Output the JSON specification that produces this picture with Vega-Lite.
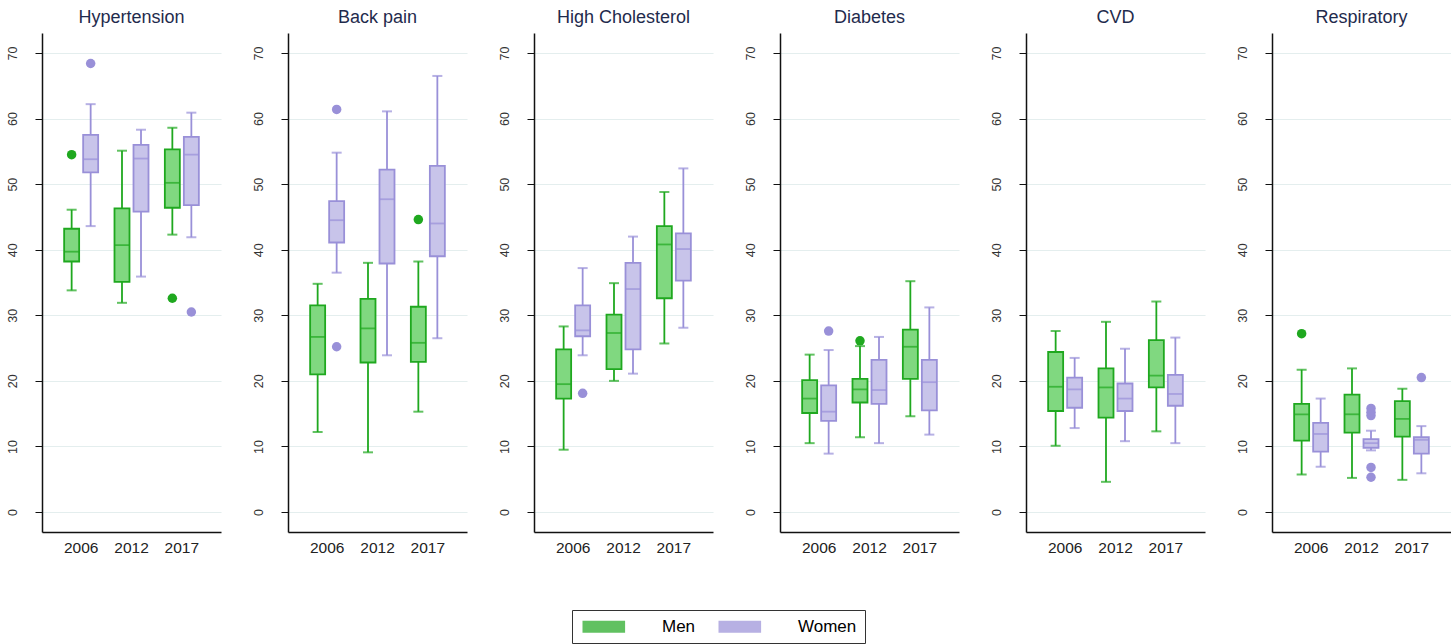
{
  "$schema": "https://vega.github.io/schema/vega-lite/v6.json",
  "background": "white",
  "padding": {"left": 6, "top": 9, "right": 0, "bottom": 0},
  "data": {
    "values": [
      {"cond": "Hypertension", "year": "2006", "sex": "Men", "lower": 33.8, "q1": 38.2, "median": 39.7, "q3": 43.2, "upper": 46.1},
      {"cond": "Hypertension", "year": "2006", "sex": "Women", "lower": 43.6, "q1": 51.8, "median": 53.8, "q3": 57.5, "upper": 62.2},
      {"cond": "Hypertension", "year": "2012", "sex": "Men", "lower": 31.9, "q1": 35.1, "median": 40.7, "q3": 46.3, "upper": 55.1},
      {"cond": "Hypertension", "year": "2012", "sex": "Women", "lower": 35.9, "q1": 45.8, "median": 53.9, "q3": 56.0, "upper": 58.3},
      {"cond": "Hypertension", "year": "2017", "sex": "Men", "lower": 42.3, "q1": 46.4, "median": 50.2, "q3": 55.3, "upper": 58.6},
      {"cond": "Hypertension", "year": "2017", "sex": "Women", "lower": 41.9, "q1": 46.8, "median": 54.5, "q3": 57.2, "upper": 60.9},
      {"cond": "Back pain", "year": "2006", "sex": "Men", "lower": 12.2, "q1": 21.0, "median": 26.7, "q3": 31.5, "upper": 34.8},
      {"cond": "Back pain", "year": "2006", "sex": "Women", "lower": 36.5, "q1": 41.1, "median": 44.5, "q3": 47.4, "upper": 54.8},
      {"cond": "Back pain", "year": "2012", "sex": "Men", "lower": 9.1, "q1": 22.8, "median": 28.0, "q3": 32.5, "upper": 38.0},
      {"cond": "Back pain", "year": "2012", "sex": "Women", "lower": 23.9, "q1": 37.9, "median": 47.7, "q3": 52.2, "upper": 61.1},
      {"cond": "Back pain", "year": "2017", "sex": "Men", "lower": 15.3, "q1": 22.9, "median": 25.8, "q3": 31.3, "upper": 38.2},
      {"cond": "Back pain", "year": "2017", "sex": "Women", "lower": 26.5, "q1": 39.0, "median": 44.0, "q3": 52.8, "upper": 66.5},
      {"cond": "High Cholesterol", "year": "2006", "sex": "Men", "lower": 9.5, "q1": 17.3, "median": 19.5, "q3": 24.8, "upper": 28.3},
      {"cond": "High Cholesterol", "year": "2006", "sex": "Women", "lower": 23.9, "q1": 26.8, "median": 27.7, "q3": 31.5, "upper": 37.2},
      {"cond": "High Cholesterol", "year": "2012", "sex": "Men", "lower": 20.0, "q1": 21.8, "median": 27.3, "q3": 30.1, "upper": 34.9},
      {"cond": "High Cholesterol", "year": "2012", "sex": "Women", "lower": 21.1, "q1": 24.8, "median": 34.0, "q3": 38.0, "upper": 42.0},
      {"cond": "High Cholesterol", "year": "2017", "sex": "Men", "lower": 25.7, "q1": 32.6, "median": 40.8, "q3": 43.6, "upper": 48.8},
      {"cond": "High Cholesterol", "year": "2017", "sex": "Women", "lower": 28.1, "q1": 35.3, "median": 40.1, "q3": 42.5, "upper": 52.4},
      {"cond": "Diabetes", "year": "2006", "sex": "Men", "lower": 10.5, "q1": 15.1, "median": 17.3, "q3": 20.1, "upper": 24.0},
      {"cond": "Diabetes", "year": "2006", "sex": "Women", "lower": 8.9, "q1": 13.9, "median": 15.3, "q3": 19.3, "upper": 24.7},
      {"cond": "Diabetes", "year": "2012", "sex": "Men", "lower": 11.4, "q1": 16.7, "median": 18.7, "q3": 20.3, "upper": 25.3},
      {"cond": "Diabetes", "year": "2012", "sex": "Women", "lower": 10.5, "q1": 16.5, "median": 18.6, "q3": 23.2, "upper": 26.7},
      {"cond": "Diabetes", "year": "2017", "sex": "Men", "lower": 14.6, "q1": 20.3, "median": 25.2, "q3": 27.8, "upper": 35.2},
      {"cond": "Diabetes", "year": "2017", "sex": "Women", "lower": 11.8, "q1": 15.5, "median": 19.8, "q3": 23.2, "upper": 31.2},
      {"cond": "CVD", "year": "2006", "sex": "Men", "lower": 10.1, "q1": 15.4, "median": 19.1, "q3": 24.4, "upper": 27.6},
      {"cond": "CVD", "year": "2006", "sex": "Women", "lower": 12.8, "q1": 15.9, "median": 18.7, "q3": 20.5, "upper": 23.5},
      {"cond": "CVD", "year": "2012", "sex": "Men", "lower": 4.6, "q1": 14.4, "median": 19.0, "q3": 21.9, "upper": 29.0},
      {"cond": "CVD", "year": "2012", "sex": "Women", "lower": 10.8, "q1": 15.4, "median": 17.3, "q3": 19.6, "upper": 24.9},
      {"cond": "CVD", "year": "2017", "sex": "Men", "lower": 12.3, "q1": 19.0, "median": 20.8, "q3": 26.2, "upper": 32.1},
      {"cond": "CVD", "year": "2017", "sex": "Women", "lower": 10.5, "q1": 16.2, "median": 18.0, "q3": 20.9, "upper": 26.6},
      {"cond": "Respiratory", "year": "2006", "sex": "Men", "lower": 5.7, "q1": 10.9, "median": 14.9, "q3": 16.5, "upper": 21.7},
      {"cond": "Respiratory", "year": "2006", "sex": "Women", "lower": 6.9, "q1": 9.2, "median": 11.9, "q3": 13.6, "upper": 17.3},
      {"cond": "Respiratory", "year": "2012", "sex": "Men", "lower": 5.2, "q1": 12.1, "median": 14.9, "q3": 17.9, "upper": 21.9},
      {"cond": "Respiratory", "year": "2012", "sex": "Women", "lower": 9.4, "q1": 9.8, "median": 10.5, "q3": 11.1, "upper": 12.4},
      {"cond": "Respiratory", "year": "2017", "sex": "Men", "lower": 4.9, "q1": 11.5, "median": 14.2, "q3": 16.9, "upper": 18.8},
      {"cond": "Respiratory", "year": "2017", "sex": "Women", "lower": 5.9, "q1": 8.9, "median": 11.0, "q3": 11.4, "upper": 13.1},
      {"cond": "Hypertension", "year": "2006", "sex": "Men", "value": 54.5},
      {"cond": "Hypertension", "year": "2006", "sex": "Women", "value": 68.4},
      {"cond": "Hypertension", "year": "2017", "sex": "Men", "value": 32.6},
      {"cond": "Hypertension", "year": "2017", "sex": "Women", "value": 30.5},
      {"cond": "Back pain", "year": "2006", "sex": "Women", "value": 61.4},
      {"cond": "Back pain", "year": "2006", "sex": "Women", "value": 25.2},
      {"cond": "Back pain", "year": "2017", "sex": "Men", "value": 44.6},
      {"cond": "High Cholesterol", "year": "2006", "sex": "Women", "value": 18.1},
      {"cond": "Diabetes", "year": "2006", "sex": "Women", "value": 27.6},
      {"cond": "Diabetes", "year": "2012", "sex": "Men", "value": 26.1},
      {"cond": "Respiratory", "year": "2006", "sex": "Men", "value": 27.2},
      {"cond": "Respiratory", "year": "2012", "sex": "Women", "value": 15.8},
      {"cond": "Respiratory", "year": "2012", "sex": "Women", "value": 15.2},
      {"cond": "Respiratory", "year": "2012", "sex": "Women", "value": 14.7},
      {"cond": "Respiratory", "year": "2012", "sex": "Women", "value": 6.8},
      {"cond": "Respiratory", "year": "2012", "sex": "Women", "value": 5.3},
      {"cond": "Respiratory", "year": "2017", "sex": "Women", "value": 20.5}
    ]
  },
  "facet": {
    "column": {
      "field": "cond",
      "type": "nominal",
      "sort": ["Hypertension", "Back pain", "High Cholesterol", "Diabetes", "CVD", "Respiratory"],
      "title": null,
      "header": {
        "labelOrient": "top",
        "labelFont": "Liberation Sans",
        "labelFontSize": 18,
        "labelColor": "#1f2b4d",
        "labelPadding": 6
      }
    }
  },
  "spacing": 31,
  "resolve": {"axis": {"y": "independent", "x": "independent"}},
  "spec": {
    "width": 179,
    "height": 499,
    "encoding": {
      "x": {
        "field": "year",
        "type": "nominal",
        "scale": {"paddingInner": 0.245, "paddingOuter": 0.4},
        "axis": {
          "title": null,
          "labelAngle": 0,
          "ticks": false,
          "labelPadding": 8,
          "labelFontSize": 15.5,
          "labelColor": "#222222",
          "domainColor": "#111111",
          "domainWidth": 1.5
        }
      },
      "xOffset": {
        "field": "sex",
        "type": "nominal",
        "scale": {"paddingInner": 0, "paddingOuter": 0}
      }
    },
    "layer": [
      {
        "transform": [{"filter": "isValid(datum.median)"}],
        "mark": {"type": "rule", "strokeWidth": 1.8},
        "encoding": {
          "y": {
            "field": "lower",
            "type": "quantitative",
            "scale": {"domain": [-3.05, 73.05], "nice": false, "zero": false},
            "axis": {
              "title": null,
              "values": [0, 10, 20, 30, 40, 50, 60, 70],
              "labelAngle": 270,
              "labelBaseline": "bottom",
              "labelAlign": "center",
              "labelFontSize": 12.5,
              "labelColor": "#333333",
              "labelPadding": 16,
              "tickSize": 7,
              "tickColor": "#111111",
              "domainColor": "#111111",
              "domainWidth": 1.5,
              "grid": true,
              "gridColor": "#e4eeee",
              "gridWidth": 1.2
            }
          },
          "y2": {"field": "upper"},
          "color": {
            "field": "sex",
            "type": "nominal",
            "scale": {"domain": ["Men", "Women"], "range": ["#1fa81f", "#9990d8"]},
            "legend": {
              "title": null,
              "orient": "none",
              "legendX": 530,
              "legendY": 577,
              "direction": "horizontal",
              "symbolType": "M-1.05,-1.05L7.17,-1.05L7.17,1.05L-1.05,1.05Z",
              "symbolStrokeWidth": 1.5,
              "symbolOpacity": 0.55,
              "labelFont": "Liberation Sans",
              "labelFontSize": 17,
              "labelColor": "#000000",
              "labelOffset": 65,
              "columnPadding": 20,
              "padding": 8,
              "strokeColor": "#333333",
              "fillColor": "white"
            }
          }
        }
      },
      {
        "transform": [{"filter": "isValid(datum.median)"}],
        "mark": {"type": "tick", "size": 10, "thickness": 2},
        "encoding": {
          "y": {"field": "lower", "type": "quantitative"},
          "color": {"field": "sex", "type": "nominal"}
        }
      },
      {
        "transform": [{"filter": "isValid(datum.median)"}],
        "mark": {"type": "tick", "size": 10, "thickness": 2},
        "encoding": {
          "y": {"field": "upper", "type": "quantitative"},
          "color": {"field": "sex", "type": "nominal"}
        }
      },
      {
        "transform": [{"filter": "isValid(datum.median)"}],
        "mark": {"type": "bar", "size": 15, "strokeWidth": 1.8},
        "encoding": {
          "y": {"field": "q1", "type": "quantitative"},
          "y2": {"field": "q3"},
          "fill": {
            "field": "sex",
            "type": "nominal",
            "scale": {"domain": ["Men", "Women"], "range": ["#80d880", "#c8c4ea"]},
            "legend": null
          },
          "stroke": {
            "field": "sex",
            "type": "nominal",
            "scale": {"domain": ["Men", "Women"], "range": ["#1fa81f", "#9990d8"]},
            "legend": null
          }
        }
      },
      {
        "transform": [{"filter": "isValid(datum.median)"}],
        "mark": {"type": "tick", "size": 15, "thickness": 1.8},
        "encoding": {
          "y": {"field": "median", "type": "quantitative"},
          "color": {"field": "sex", "type": "nominal"}
        }
      },
      {
        "transform": [{"filter": "isValid(datum.value)"}],
        "mark": {"type": "point", "filled": true, "opacity": 1, "size": 90},
        "encoding": {
          "y": {"field": "value", "type": "quantitative"},
          "color": {"field": "sex", "type": "nominal"}
        }
      }
    ]
  },
  "config": {
    "font": "Liberation Sans",
    "view": {"stroke": null}
  }
}
